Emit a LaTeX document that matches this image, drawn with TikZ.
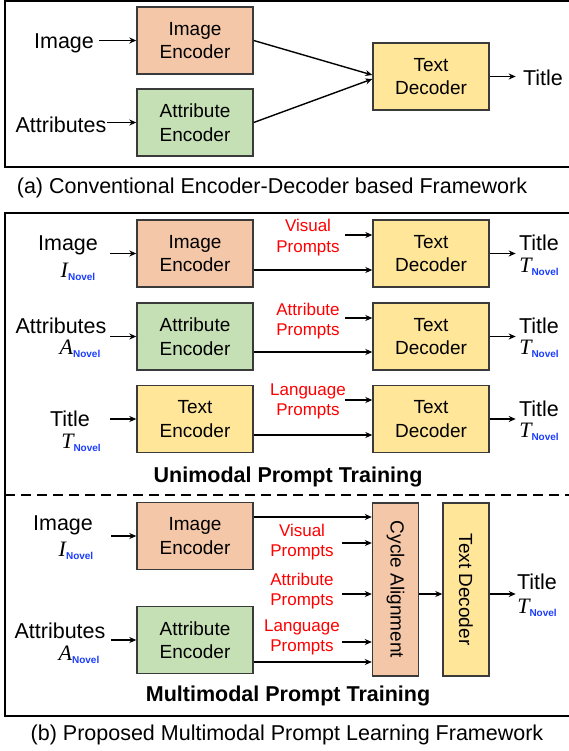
\documentclass[tikz,border=0pt]{standalone}
\usepackage{fontspec}
\setmainfont{Liberation Sans}
\newfontfamily\symfont{Liberation Serif}
\usetikzlibrary{arrows.meta}

\definecolor{imgfill}{HTML}{F4C7A8}
\definecolor{attfill}{HTML}{C5E0B4}
\definecolor{txtfill}{HTML}{FFE699}
\definecolor{boxline}{HTML}{3A3A3A}
\definecolor{novelblue}{HTML}{1A3CFF}

% italic symbol with the blue "Novel" index
\newcommand{\novel}[1]{{\symfont\itshape #1}\raisebox{-3.5pt}{\fontsize{10}{10}\selectfont\bfseries\color{novelblue}Novel}}

\begin{document}
\begin{tikzpicture}[
	x=1pt, y=-1pt,
	every node/.style={inner sep=0pt, font=\fontsize{21.5}{26}\selectfont},
	box/.style={
		draw=boxline, line width=1.4pt, align=center,
		minimum width=116pt, minimum height=67pt,
		font=\fontsize{19}{23.5}\selectfont
	},
	imgbox/.style={box, fill=imgfill},
	attbox/.style={box, fill=attfill},
	txtbox/.style={box, fill=txtfill},
	tallbox/.style={box, minimum width=46pt, minimum height=173pt},
	prompt/.style={align=center, text=red, font=\fontsize{17}{20.5}\selectfont},
	sym/.style={font=\fontsize{22}{24}\selectfont},
	heading/.style={font=\fontsize{21.5}{26}\selectfont\bfseries},
	arr/.style={-{Stealth[length=7pt,width=6pt]}, line width=1.4pt},
	frame/.style={line width=1.6pt}
	]
	\useasboundingbox (0,0) rectangle (568,751);
	
	% (a) Conventional framework
	\draw[frame] (5,1) rectangle (580,167);
	\node[imgbox] (aimg) at (195,40.5) {Image\\Encoder};
	\node[attbox] (aatt) at (195,122.5) {Attribute\\Encoder};
	\node[txtbox] (adec) at (431,76.5) {Text\\Decoder};
	\node (ainimg) at (64,43) {Image};
	\node (ainatt) at (61,125) {Attributes};
	\node (aout) at (543,78) {Title};
	\draw[arr] ([xshift=-37pt]aimg.west) -- (aimg.west);
	\draw[arr] ([xshift=-29pt]aatt.west) -- (aatt.west);
	\draw[arr] (aimg.east) -- ([yshift=1.5pt]adec.west);
	\draw[arr] (aatt.east) -- ([yshift=-2.5pt]adec.west);
	\draw[arr] (adec.east) -- ([xshift=26pt]adec.east);
	\node (capa) at (272,188) {(a) Conventional Encoder-Decoder based Framework};
	
	% (b) Proposed framework
	\draw[frame] (5,213) rectangle (580,716);
	\draw[frame, dash pattern=on 10pt off 6pt] (5,495) -- (580,495);
	
	% Unimodal: image row
	\node[imgbox] (uimg) at (195,253.5) {Image\\Encoder};
	\node[txtbox] (udec1) at (431,253.5) {Text\\Decoder};
	\node (uinimg) at (68,245) {Image};
	\node[sym] (usimg) at (78,272) {\novel{I}};
	\node[prompt] (uvis) at (308,237.5) {Visual\\Prompts};
	\node (uout1) at (539,243) {Title};
	\node[sym] (usout1) at (539,267) {\novel{T}};
	\draw[arr] ([xshift=-26pt]uimg.west) -- (uimg.west);
	\draw[arr] ([shift={(-27pt,18.5pt)}]udec1.west) -- ([yshift=18.5pt]udec1.west);
	\draw[arr] ([yshift=-16.5pt]uimg.east) -- ([yshift=-16.5pt]uimg.east -| udec1.west);
	\draw[arr] (udec1.east) -- ([xshift=26pt]udec1.east);
	
	% Unimodal: attribute row
	\node[attbox] (uatt) at (195,336.5) {Attribute\\Encoder};
	\node[txtbox] (udec2) at (431,336.5) {Text\\Decoder};
	\node (uinatt) at (61,326) {Attributes};
	\node[sym] (usatt) at (80,349) {\novel{A}};
	\node[prompt] (uattp) at (308,321) {Attribute\\Prompts};
	\node (uout2) at (539,326) {Title};
	\node[sym] (usout2) at (539,349) {\novel{T}};
	\draw[arr] ([xshift=-26pt]uatt.west) -- (uatt.west);
	\draw[arr] ([shift={(-27pt,18.5pt)}]udec2.west) -- ([yshift=18.5pt]udec2.west);
	\draw[arr] ([yshift=-15.5pt]uatt.east) -- ([yshift=-15.5pt]uatt.east -| udec2.west);
	\draw[arr] (udec2.east) -- ([xshift=26pt]udec2.east);
	
	% Unimodal: title row
	\node[txtbox] (utxt) at (195,419) {Text\\Encoder};
	\node[txtbox] (udec3) at (431,419) {Text\\Decoder};
	\node (uintxt) at (70,419) {Title};
	\node[sym] (ustxt) at (81,443) {\novel{T}};
	\node[prompt] (ulang) at (308,401.5) {Language\\Prompts};
	\node (uout3) at (539,409) {Title};
	\node[sym] (usout3) at (539,432) {\novel{T}};
	\draw[arr] ([xshift=-26pt]utxt.west) -- (utxt.west);
	\draw[arr] ([shift={(-27pt,19pt)}]udec3.west) -- ([yshift=19pt]udec3.west);
	\draw[arr] ([yshift=-16pt]utxt.east) -- ([yshift=-16pt]utxt.east -| udec3.west);
	\draw[arr] (udec3.east) -- ([xshift=26pt]udec3.east);
	\node[heading] (uni) at (288,477) {Unimodal Prompt Training};
	
	% Multimodal
	\node[imgbox] (mimg) at (195,536) {Image\\Encoder};
	\node[attbox] (matt) at (195,640) {Attribute\\Encoder};
	\node[tallbox, fill=imgfill] (mcyc) at (395.5,589.5) {\rotatebox{-90}{Cycle Alignment}};
	\node[tallbox, fill=txtfill] (mdec) at (466,589.5) {\rotatebox{-90}{Text Decoder}};
	\node (minimg) at (63,525) {Image};
	\node[sym] (msimg) at (76,551) {\novel{I}};
	\node (minatt) at (60,631) {Attributes};
	\node[sym] (msatt) at (79,655) {\novel{A}};
	\node[prompt] (mvis) at (302,542) {Visual\\Prompts};
	\node[prompt] (mattp) at (302,591) {Attribute\\Prompts};
	\node[prompt] (mlang) at (302,637.5) {Language\\Prompts};
	\node (mout) at (537,582) {Title};
	\node[sym] (msout) at (537,608) {\novel{T}};
	\draw[arr] ([xshift=-25pt]mimg.west) -- (mimg.west);
	\draw[arr] ([xshift=-25pt]matt.west) -- (matt.west);
	\draw[arr] ([yshift=19pt]mimg.east) -- ([yshift=19pt]mimg.east -| mcyc.west);
	\draw[arr] ([shift={(-30pt,46.5pt)}]mcyc.west) -- ([yshift=46.5pt]mcyc.west);
	\draw[arr] ([shift={(-30pt,-4.5pt)}]mcyc.west) -- ([yshift=-4.5pt]mcyc.west);
	\draw[arr] ([shift={(-30pt,-52.5pt)}]mcyc.west) -- ([yshift=-52.5pt]mcyc.west);
	\draw[arr] ([yshift=-22pt]matt.east) -- ([yshift=-22pt]matt.east -| mcyc.west);
	\draw[arr] ([yshift=-4.5pt]mcyc.east) -- ([yshift=-4.5pt]mcyc.east -| mdec.west);
	\draw[arr] ([yshift=-4.5pt]mdec.east) -- ([shift={(26pt,-4.5pt)}]mdec.east);
	\node[heading] (multi) at (288,696) {Multimodal Prompt Training};
	\node (capb) at (287,735) {(b) Proposed Multimodal Prompt Learning Framework};
	
\end{tikzpicture}
\end{document}
